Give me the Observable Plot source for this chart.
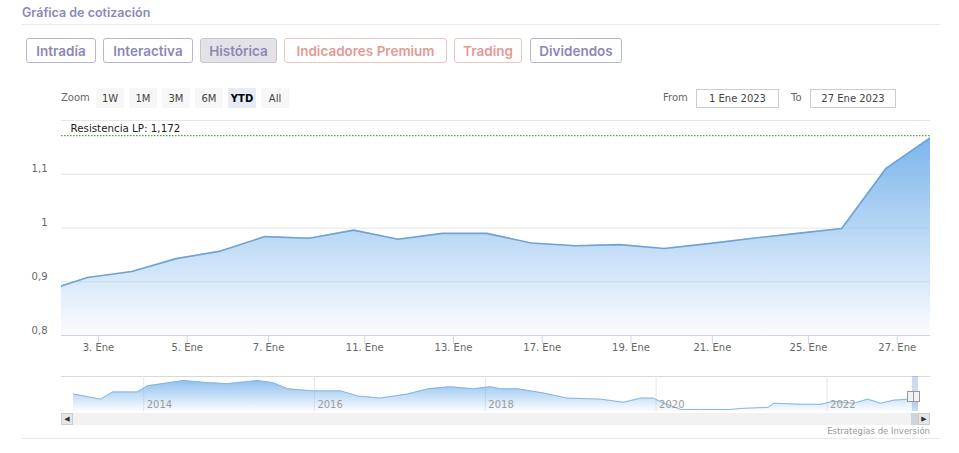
<!DOCTYPE html>
<html><head><meta charset="utf-8">
<script src="https://cdn.jsdelivr.net/npm/d3@7"></script>
<script src="https://cdn.jsdelivr.net/npm/@observablehq/plot@0.6"></script>
<style>
body{margin:0;background:#fff;width:959px;height:453px;overflow:hidden;position:relative;font-family:"DejaVu Sans",sans-serif}
.a{position:absolute}
.title{left:22px;top:5px;font:600 12.5px Inter,sans-serif;color:#8c87b8;white-space:nowrap}
.hr{height:1px;background:#e8e8e8}
.btn{position:absolute;top:38px;height:25px;box-sizing:border-box;border:1px solid #b7b3d4;border-radius:3px;font:600 13.5px Inter,sans-serif;color:#8c87b8;display:flex;align-items:center;justify-content:center;white-space:nowrap}
.btn.sal{border-color:#efc3bf;color:#e59a94}
.btn.sel{background:#e3e3e7;border-color:#c6c6cc}
.rb{position:absolute;top:88px;height:20px;width:28px;background:#f7f7f7;font-size:10px;color:#444;display:flex;align-items:center;justify-content:center}
.rb.sel{background:#e6ebf5;color:#000;font-weight:bold}
.lbl{position:absolute;top:92px;font-size:10px;color:#666}
.inp{position:absolute;top:89px;height:19px;box-sizing:border-box;border:1px solid #ccc;font-size:10px;color:#444;display:flex;align-items:center;justify-content:center}
svg{overflow:visible}
</style>
</head><body>
<div class="a title" id="title"></div>
<div class="a hr" style="left:22px;top:24px;width:918px"></div>
<div id="tabs"></div>
<div id="ranges"></div>
<div class="lbl" style="left:61px">Zoom</div>
<div class="lbl" style="left:663px">From</div>
<div class="inp" id="fromBox" style="left:696px;width:83px"></div>
<div class="lbl" style="left:791px">To</div>
<div class="inp" id="toBox" style="left:810px;width:86px"></div>
<div class="a" id="main" style="left:0;top:80px"></div>
<div class="a" style="left:61px;top:376px;width:869px;height:1px;background:#d9d9d9"></div>
<div class="a" id="nav" style="left:0;top:370px"></div>
<div class="a" style="left:61px;top:413px;width:869px;height:12px;background:#f2f2f2"></div>
<div class="a" style="left:911px;top:413px;width:7px;height:12px;background:#cfd3dc"></div>
<div class="a" style="left:61px;top:413px;width:12px;height:12px;box-sizing:border-box;background:#e6e6e6;border:1px solid #ccc;font-size:7px;color:#333;display:flex;align-items:center;justify-content:center">◀</div>
<div class="a" style="left:918px;top:413px;width:12px;height:12px;box-sizing:border-box;background:#e6e6e6;border:1px solid #ccc;font-size:7px;color:#333;display:flex;align-items:center;justify-content:center">▶</div>
<div class="a" style="left:907px;top:391px;width:7px;height:11px;box-sizing:border-box;background:#f2f2f2;border:1px solid #999"></div>
<div class="a" style="left:913px;top:391px;width:7px;height:11px;box-sizing:border-box;background:#f2f2f2;border:1px solid #999"></div>
<div class="a" id="credit" style="right:29px;top:426px;font-size:8.5px;color:#999"></div>
<div class="a hr" style="left:22px;top:438px;width:918px"></div>
<script>
// ---------- data ----------
const titleText = "Gráfica de cotización";
const tabLabels = ["Intradía", "Interactiva", "Histórica", "Indicadores Premium", "Trading", "Dividendos"];
const rangeLabels = ["1W", "1M", "3M", "6M", "YTD", "All"];
const selectedRange = "YTD";
const fromLabel = "1 Ene 2023";
const toLabel = "27 Ene 2023";
const creditText = "Estrategias de Inversión";

// daily closes (trading days)
const pointDates = ["2022-12-30","2023-01-02","2023-01-03","2023-01-04","2023-01-05","2023-01-06",
  "2023-01-09","2023-01-10","2023-01-11","2023-01-12","2023-01-13",
  "2023-01-16","2023-01-17","2023-01-18","2023-01-19","2023-01-20",
  "2023-01-23","2023-01-24","2023-01-25","2023-01-26","2023-01-27"];
const closeValues = [0.881, 0.908, 0.919, 0.943, 0.957, 0.984,
  0.981, 0.996, 0.979, 0.990, 0.990,
  0.972, 0.967, 0.969, 0.962, 0.971,
  0.981, 0.990, 0.999, 1.111, 1.168];
const rangeStart = "2023-01-01";

const xTickDates = ["2023-01-03","2023-01-05","2023-01-07","2023-01-11","2023-01-13","2023-01-17","2023-01-19","2023-01-21","2023-01-25","2023-01-27"];
const xTickLabels = ["3. Ene","5. Ene","7. Ene","11. Ene","13. Ene","17. Ene","19. Ene","21. Ene","25. Ene","27. Ene"];
const yTicks = [0.8, 0.9, 1, 1.1];
const yTickLabels = ["0,8", "0,9", "1", "1,1"];
const yGrid = [0.9, 1, 1.1, 1.2];
const yDomain = [0.8, 1.2];
const resistance = 1.172;
const resistanceLabel = "Resistencia LP: 1,172";

// navigator (full history)
const navDates = ["2013-03-07","2013-07-01","2013-08-22","2013-12-05","2014-01-19","2014-06-21","2014-10-01","2014-12-24",
  "2015-05-01","2015-07-09","2015-09-09","2015-12-28","2016-04-23","2016-07-05","2016-10-08",
  "2017-02-03","2017-05-01","2017-08-04","2017-11-10","2018-01-23","2018-03-07","2018-05-19","2018-09-06","2018-12-16",
  "2019-05-08","2019-08-15","2019-10-27","2019-12-20","2020-02-03","2020-04-16","2020-07-09","2020-11-14","2020-12-28",
  "2021-04-23","2021-05-19","2021-09-09","2021-12-05","2022-01-30","2022-04-23","2022-06-24","2022-08-18","2022-10-12",
  "2022-12-16","2022-12-30","2023-01-27"];
const navValues = [1.10,0.90,1.18,1.18,1.42,1.62,1.54,1.50,
  1.62,1.54,1.30,1.22,1.22,1.02,0.94,
  1.10,1.30,1.38,1.30,1.38,1.30,1.30,1.14,0.94,
  0.90,0.78,0.94,0.94,0.74,0.50,0.50,0.50,0.54,
  0.58,0.74,0.70,0.70,0.82,0.74,0.90,0.74,0.86,
  0.90,0.881,1.168];
const navYears = ["2014","2016","2018","2020","2022"];
const navYDomain = [0.42, 1.78];

// ---------- header ----------
document.getElementById("title").textContent = titleText;
const tabPos = [[26,70],[103,90],[200,77],[284,163],[454,68],[530,92]];
const tabClass = ["", "", "sel", "sal", "sal", ""];
const tabs = document.getElementById("tabs");
tabLabels.forEach((t, i) => {
  const d = document.createElement("div");
  d.className = "btn " + tabClass[i];
  d.style.left = tabPos[i][0] + "px"; d.style.width = tabPos[i][1] + "px";
  d.textContent = t; tabs.appendChild(d);
});
const ranges = document.getElementById("ranges");
rangeLabels.forEach((t, i) => {
  const d = document.createElement("div");
  d.className = "rb" + (t === selectedRange ? " sel" : "");
  d.style.left = (96 + i * 33) + "px";
  d.textContent = t; ranges.appendChild(d);
});
document.getElementById("fromBox").textContent = fromLabel;
document.getElementById("toBox").textContent = toLabel;
document.getElementById("credit").textContent = creditText;

// ---------- ordinal (trading-day) x positions ----------
const pointTimes = pointDates.map(d => Date.parse(d + "T18:00:00Z"));
function ord(t) {
  if (t <= pointTimes[0]) return 0;
  for (let i = 0; i < pointTimes.length - 1; i++) {
    if (t <= pointTimes[i + 1]) return i + (t - pointTimes[i]) / (pointTimes[i + 1] - pointTimes[i]);
  }
  return pointTimes.length - 1;
}
const series = pointDates.map((d, i) => ({pos: i, value: closeValues[i]}));
const xTicks = xTickDates.map((d, i) => ({pos: ord(Date.parse(d + "T00:00:00Z")), label: xTickLabels[i]}));
const yTickRows = yTicks.map((v, i) => ({v, label: yTickLabels[i]}));
const xDomain = [ord(Date.parse(rangeStart + "T00:00:00Z")), pointTimes.length - 1];

const W = 959, H = 290, mT = 40, mB = 35, mL = 61, mR = 29;
const unitPerPx = (yDomain[1] - yDomain[0]) / (H - mT - mB);

const main = Plot.plot({
  width: W, height: H, marginTop: mT, marginBottom: mB, marginLeft: mL, marginRight: mR,
  x: {type: "linear", domain: xDomain, axis: null},
  y: {type: "linear", domain: yDomain, axis: null},
  style: {fontFamily: "DejaVu Sans", background: "transparent", overflow: "visible"},
  marks: [
    Plot.ruleY(yGrid, {stroke: "#e6e6e6"}),
    Plot.areaY(series, {x: "pos", y1: yDomain[0], y2: "value", fill: "url(#areaGrad)", clip: true}),
    Plot.line(series, {x: "pos", y: "value", stroke: "#6fa2d6", strokeWidth: 1.6, clip: true}),
    Plot.ruleY([yDomain[0]], {stroke: "#ccd6eb"}),
    Plot.ruleX(xTicks, {x: "pos", y1: yDomain[0], y2: yDomain[0] - 9 * unitPerPx, stroke: "#ccd6eb"}),
    Plot.text(xTicks, {x: "pos", text: "label", frameAnchor: "bottom", dy: 15, fill: "#666", fontSize: 10}),
    Plot.text(yTickRows, {y: "v", text: "label", frameAnchor: "left", dx: -14, dy: -5, textAnchor: "end", fill: "#666", fontSize: 10}),
    Plot.ruleY([resistance], {stroke: "#5c9a3e", strokeDasharray: "1.5,1.5", strokeWidth: 1.2}),
    Plot.text([resistance], {y: d => d, text: () => resistanceLabel, frameAnchor: "left", dx: 9, dy: -7, textAnchor: "start", fill: "#222", fontSize: 10.3})
  ]
});
const defs = d3.select(main).insert("defs", ":first-child");
const g1 = defs.append("linearGradient").attr("id", "areaGrad").attr("x1", 0).attr("y1", 0).attr("x2", 0).attr("y2", 1);
g1.append("stop").attr("offset", "0%").attr("stop-color", "#7cb5ec").attr("stop-opacity", 1);
g1.append("stop").attr("offset", "100%").attr("stop-color", "#7cb5ec").attr("stop-opacity", 0.03);
document.getElementById("main").appendChild(main);

// ---------- navigator ----------
const navSeries = navDates.map((d, i) => ({date: new Date(d + "T00:00:00Z"), value: navValues[i]}));
const navYearRows = navYears.map(y => ({date: new Date(y + "-01-01T00:00:00Z"), label: y}));
const nav = Plot.plot({
  width: W, height: 60, marginTop: 6, marginBottom: 19, marginLeft: 73, marginRight: 41,
  x: {type: "utc", domain: [navSeries[0].date, navSeries[navSeries.length - 1].date], axis: null},
  y: {type: "linear", domain: navYDomain, axis: null},
  style: {fontFamily: "DejaVu Sans", background: "transparent", overflow: "visible"},
  marks: [
    Plot.ruleX(navYearRows, {x: "date", stroke: "#e6e6e6"}),
    Plot.areaY(navSeries, {x: "date", y1: navYDomain[0], y2: "value", fill: "url(#navGrad)"}),
    Plot.line(navSeries, {x: "date", y: "value", stroke: "#86b6e4", strokeWidth: 1}),
    Plot.text(navYearRows, {x: "date", text: "label", frameAnchor: "bottom", dx: 3, dy: -4, textAnchor: "start", fill: "#9a9a9a", fontSize: 10}),
    Plot.rect([{x1: new Date(rangeStart + "T00:00:00Z"), x2: navSeries[navSeries.length - 1].date}], {x1: "x1", x2: "x2", fill: "rgba(102,133,194,0.3)"})
  ]
});
const defs2 = d3.select(nav).insert("defs", ":first-child");
const g2 = defs2.append("linearGradient").attr("id", "navGrad").attr("x1", 0).attr("y1", 0).attr("x2", 0).attr("y2", 1);
g2.append("stop").attr("offset", "0%").attr("stop-color", "#7cb5ec").attr("stop-opacity", 0.85);
g2.append("stop").attr("offset", "100%").attr("stop-color", "#7cb5ec").attr("stop-opacity", 0.03);
document.getElementById("nav").appendChild(nav);
</script>
</body></html>
